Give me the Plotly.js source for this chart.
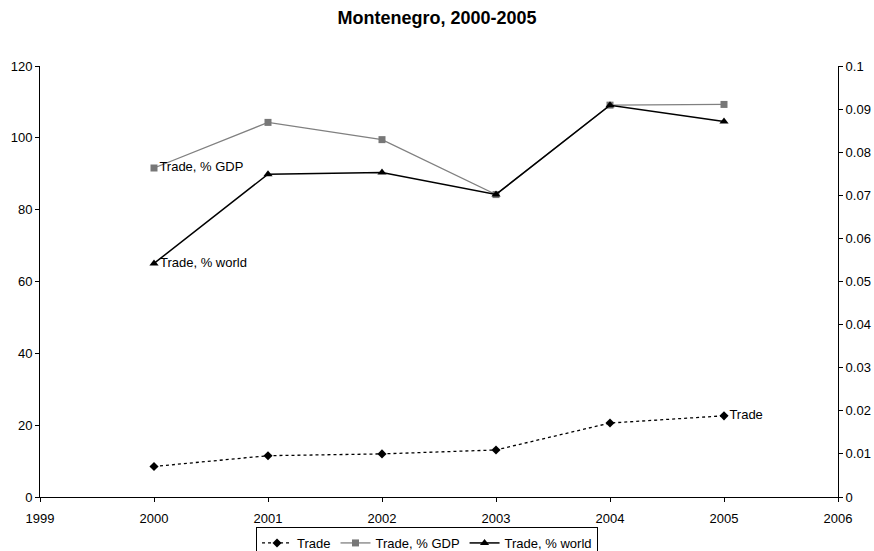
<!DOCTYPE html>
<html>
<head>
<meta charset="utf-8">
<script src="https://cdn.plot.ly/plotly-3.0.1.min.js"></script>
<style>
  html, body { margin: 0; padding: 0; background: #fff; }
  #chart { width: 874px; height: 551px; }
</style>
</head>
<body>
<div id="chart"></div>
<script>
// Montenegro trade indicators, 2000-2005
const years = [2000, 2001, 2002, 2003, 2004, 2005];
const trade = [8.5, 11.5, 12.0, 13.1, 20.6, 22.6];
const tradeGdp = [91.6, 104.3, 99.5, 84.2, 109.1, 109.3];
const tradeWorld = [0.0542, 0.0749, 0.0753, 0.0702, 0.0909, 0.0871];

const tradeLabels = ['', '', '', '', '', 'Trade'];
const gdpLabels = ['Trade, % GDP', '', '', '', '', ''];
const worldLabels = ['Trade, % world', '', '', '', '', ''];

const font = { family: 'Liberation Sans, Arial, sans-serif', size: 13, color: '#000' };

const traces = [
  {
    x: years, y: trade, name: 'Trade',
    mode: 'lines+markers+text', text: tradeLabels, textposition: 'middle right',
    textfont: font,
    line: { color: '#000', width: 1.3, dash: '3px,3px' },
    marker: { symbol: 'diamond', size: 7, color: '#000' },
    xaxis: 'x', yaxis: 'y'
  },
  {
    x: years, y: tradeGdp, name: 'Trade, % GDP',
    mode: 'lines+markers+text', text: gdpLabels, textposition: 'middle right',
    textfont: font,
    line: { color: '#808080', width: 1.3 },
    marker: { symbol: 'square', size: 7, color: '#777777' },
    xaxis: 'x', yaxis: 'y'
  },
  {
    x: years, y: tradeWorld, name: 'Trade, % world',
    mode: 'lines+markers+text', text: worldLabels, textposition: 'middle right',
    textfont: font,
    line: { color: '#000', width: 1.5 },
    marker: { symbol: 'triangle-up', size: 8, color: '#000' },
    xaxis: 'x', yaxis: 'y2'
  }
];

const layout = {
  width: 874, height: 551,
  margin: { l: 40, r: 36, t: 66, b: 54 },
  paper_bgcolor: '#fff', plot_bgcolor: '#fff',
  font: font,
  showlegend: true,
  title: {
    text: '<b>Montenegro, 2000-2005</b>',
    font: { family: 'Liberation Sans, Arial, sans-serif', size: 18, color: '#000' },
    x: 0.5, xanchor: 'center', y: 0.967, yanchor: 'middle'
  },
  xaxis: {
    range: [1999, 2006], dtick: 1, tick0: 1999,
    showgrid: false, zeroline: false,
    showline: true, linecolor: '#000', linewidth: 1,
    ticks: 'outside', ticklen: 4, tickcolor: '#000',
    ticklabelstandoff: 5,
    tickfont: font
  },
  // inner half of the crossing tick marks on the category axis
  xaxis2: {
    overlaying: 'x', anchor: 'y', range: [1999, 2006], dtick: 1, tick0: 1999,
    showgrid: false, zeroline: false, showline: false,
    ticks: 'inside', ticklen: 4, tickcolor: '#000', showticklabels: false
  },
  yaxis: {
    range: [0, 120], dtick: 20,
    showgrid: false, zeroline: false,
    showline: true, linecolor: '#000', linewidth: 1,
    ticks: 'outside', ticklen: 4, tickcolor: '#000',
    tickfont: font
  },
  yaxis2: {
    overlaying: 'y', side: 'right', anchor: 'x',
    range: [0, 0.1], dtick: 0.01,
    showgrid: false, zeroline: false,
    showline: true, linecolor: '#000', linewidth: 1,
    ticks: 'outside', ticklen: 4, tickcolor: '#000',
    tickfont: font
  },
  // inner half of the crossing tick marks on the right axis
  yaxis3: {
    overlaying: 'y', side: 'right', anchor: 'x',
    range: [0, 0.1], dtick: 0.01,
    showgrid: false, zeroline: false, showline: false,
    ticks: 'inside', ticklen: 4, tickcolor: '#000', showticklabels: false
  },
  legend: {
    orientation: 'h',
    xref: 'paper', x: 0.485, xanchor: 'center',
    yref: 'container', y: 0.0436, yanchor: 'top',
    bordercolor: '#000', borderwidth: 1,
    font: font,
    itemwidth: 30,
    tracegroupgap: 0
  }
};

Plotly.newPlot('chart', traces, layout, { staticPlot: true, displayModeBar: false });
</script>
</body>
</html>
